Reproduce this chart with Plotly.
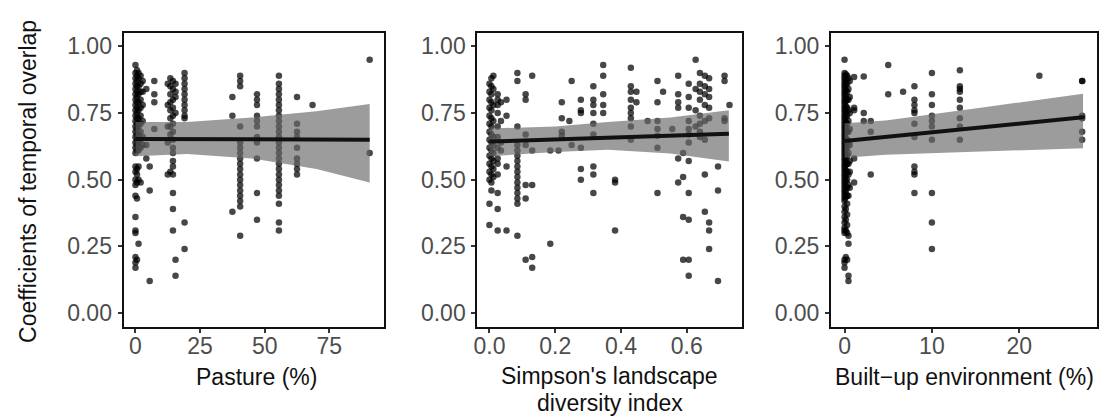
import plotly.graph_objects as go

# ---------------- data ----------------
y_ticks = [0.0, 0.25, 0.5, 0.75, 1.0]
y_tick_text = ["0.00", "0.25", "0.50", "0.75", "1.00"]

# Panel 1: Pasture (%) -- column x positions and the overlap values at each
pasture_col_x = [0.0, 0.6, 1.2, 2.0, 2.8, 4.2, 5.5, 7.3, 12.5, 13.5, 14.5, 15.5, 19.0,
                 37.5, 40.5, 47.0, 55.5, 62.5, 68.5, 90.6]
pasture_col_y = [
    [0.93, 0.90, 0.88, 0.86, 0.84, 0.82, 0.80, 0.78, 0.76, 0.74, 0.72, 0.70, 0.68, 0.66, 0.64,
     0.62, 0.60, 0.55, 0.53, 0.50, 0.48, 0.44, 0.36, 0.31, 0.30, 0.21, 0.19, 0.17],
    [0.91, 0.89, 0.87, 0.85, 0.83, 0.81, 0.79, 0.77, 0.75, 0.73, 0.71, 0.69, 0.67, 0.65, 0.63,
     0.61, 0.54, 0.52, 0.49, 0.43, 0.20],
    [0.90, 0.88, 0.85, 0.82, 0.79, 0.76, 0.73, 0.70, 0.67, 0.64, 0.61, 0.55, 0.50, 0.26],
    [0.89, 0.86, 0.83, 0.80, 0.77, 0.74, 0.71, 0.68, 0.65, 0.62, 0.49],
    [0.87, 0.83, 0.78, 0.72, 0.66, 0.63],
    [0.84, 0.63, 0.58],
    [0.55, 0.46, 0.12],
    [0.87, 0.82, 0.79, 0.69],
    [0.86, 0.78, 0.70, 0.64, 0.52],
    [0.88, 0.85, 0.82, 0.79, 0.76, 0.73, 0.70, 0.67, 0.53],
    [0.87, 0.84, 0.80, 0.77, 0.74, 0.71, 0.68, 0.65, 0.62, 0.60, 0.57, 0.55, 0.52, 0.45, 0.39, 0.31],
    [0.86, 0.83, 0.81, 0.75, 0.20, 0.14],
    [0.90, 0.88, 0.86, 0.84, 0.82, 0.80, 0.78, 0.76, 0.74, 0.73, 0.34, 0.24],
    [0.81, 0.74, 0.38],
    [0.89, 0.87, 0.85, 0.70, 0.64, 0.62, 0.60, 0.58, 0.56, 0.54, 0.52, 0.50, 0.48, 0.46, 0.44,
     0.42, 0.40, 0.29],
    [0.82, 0.80, 0.78, 0.74, 0.72, 0.70, 0.66, 0.64, 0.58, 0.45, 0.35],
    [0.89, 0.86, 0.84, 0.82, 0.80, 0.78, 0.76, 0.74, 0.72, 0.70, 0.68, 0.66, 0.64, 0.62, 0.60,
     0.58, 0.56, 0.54, 0.52, 0.50, 0.48, 0.46, 0.44, 0.41, 0.34, 0.31],
    [0.81, 0.71, 0.68, 0.66, 0.62, 0.58, 0.56, 0.54, 0.52],
    [0.78],
    [0.95, 0.60],
]
pasture_fit_x = [0.0, 90.6]
pasture_fit_y = [0.653, 0.650]
pasture_band_x = [0.0, 20.0, 45.0, 70.0, 90.6]
pasture_band_lo = [0.588, 0.596, 0.580, 0.540, 0.490]
pasture_band_hi = [0.716, 0.716, 0.733, 0.757, 0.784]

# Panel 2: Simpson's landscape diversity index
simpson_col_x = [0.000, 0.006, 0.012, 0.025, 0.035, 0.052, 0.085, 0.110, 0.130, 0.185, 0.210,
                 0.220, 0.243, 0.250, 0.278, 0.316, 0.346, 0.382, 0.430, 0.447, 0.481, 0.511,
                 0.528, 0.556, 0.574, 0.589, 0.606, 0.627, 0.640, 0.655, 0.668, 0.695, 0.715,
                 0.730]
simpson_col_y = [
    [0.86, 0.83, 0.80, 0.77, 0.74, 0.71, 0.68, 0.65, 0.62, 0.59, 0.56, 0.53, 0.50, 0.41, 0.33],
    [0.88, 0.85, 0.82, 0.79, 0.76, 0.73, 0.70, 0.67, 0.64, 0.61, 0.58, 0.55, 0.52, 0.49, 0.46],
    [0.89, 0.84, 0.78, 0.72, 0.66, 0.63, 0.60, 0.57, 0.54, 0.51],
    [0.82, 0.80, 0.78, 0.75, 0.70, 0.66, 0.62, 0.58, 0.56, 0.52, 0.45, 0.39, 0.31],
    [0.79, 0.72, 0.64, 0.61],
    [0.80, 0.74, 0.55, 0.31],
    [0.90, 0.87, 0.70, 0.63, 0.61, 0.59, 0.57, 0.55, 0.53, 0.51, 0.49, 0.47, 0.45, 0.43, 0.41, 0.29],
    [0.82, 0.80, 0.67, 0.63, 0.48, 0.43, 0.20],
    [0.89, 0.61, 0.48, 0.21, 0.17],
    [0.61, 0.26],
    [0.61],
    [0.79, 0.73, 0.68, 0.665],
    [0.72],
    [0.87, 0.63],
    [0.80, 0.76, 0.75, 0.62, 0.54, 0.50],
    [0.85, 0.80, 0.78, 0.75, 0.71, 0.67, 0.55, 0.52, 0.45],
    [0.93, 0.89, 0.82, 0.78, 0.75],
    [0.50, 0.49, 0.31],
    [0.92, 0.85, 0.83, 0.80, 0.77, 0.75, 0.73, 0.70, 0.65],
    [0.83, 0.79],
    [0.72],
    [0.87, 0.79, 0.72, 0.69, 0.665, 0.62, 0.45],
    [0.83],
    [0.69],
    [0.89, 0.82, 0.79, 0.77, 0.58, 0.49],
    [0.60, 0.51, 0.36, 0.20],
    [0.86, 0.81, 0.77, 0.72, 0.69, 0.67, 0.64, 0.57, 0.45, 0.35, 0.20, 0.14],
    [0.95, 0.84, 0.76, 0.70],
    [0.90, 0.86, 0.83, 0.80, 0.74, 0.71, 0.68, 0.66],
    [0.89, 0.85, 0.82, 0.78, 0.72, 0.65, 0.52, 0.38],
    [0.88, 0.84, 0.81, 0.77, 0.73, 0.34, 0.31, 0.24],
    [0.55, 0.46, 0.12],
    [0.89, 0.87, 0.73, 0.72],
    [0.78],
]
simpson_fit_x = [0.0, 0.728]
simpson_fit_y = [0.643, 0.672]
simpson_band_x = [0.0, 0.2, 0.36, 0.55, 0.728]
simpson_band_lo = [0.588, 0.604, 0.612, 0.598, 0.568]
simpson_band_hi = [0.692, 0.700, 0.716, 0.733, 0.760]

# Panel 3: Built-up environment (%)
builtup_col_x = [0.0, 0.15, 0.3, 0.45, 0.6, 1.1, 2.2, 3.0, 5.0, 6.7, 8.0, 10.0, 13.2, 22.3, 27.2]
builtup_col_y = [
    [0.95, 0.90, 0.89, 0.88, 0.87, 0.86, 0.85, 0.84, 0.83, 0.82, 0.81, 0.80, 0.79, 0.78, 0.77,
     0.76, 0.75, 0.74, 0.73, 0.72, 0.71, 0.70, 0.69, 0.68, 0.67, 0.66, 0.65, 0.64, 0.63, 0.62,
     0.61, 0.60, 0.59, 0.58, 0.57, 0.56, 0.55, 0.54, 0.53, 0.52, 0.51, 0.50, 0.49, 0.48, 0.47,
     0.46, 0.45, 0.44, 0.43, 0.42, 0.40, 0.38, 0.36, 0.34, 0.32, 0.31, 0.30, 0.20, 0.19, 0.17],
    [0.895, 0.875, 0.855, 0.835, 0.815, 0.795, 0.775, 0.755, 0.735, 0.715, 0.695, 0.675, 0.655,
     0.635, 0.615, 0.595, 0.575, 0.555, 0.535, 0.515, 0.495, 0.475, 0.455, 0.435, 0.39, 0.35, 0.31,
     0.21],
    [0.89, 0.86, 0.83, 0.80, 0.77, 0.74, 0.71, 0.68, 0.65, 0.62, 0.59, 0.56, 0.53, 0.50, 0.47,
     0.44, 0.41, 0.37, 0.33, 0.30, 0.20],
    [0.88, 0.84, 0.80, 0.76, 0.72, 0.68, 0.64, 0.60, 0.56, 0.52, 0.48, 0.44, 0.29, 0.26, 0.14, 0.12],
    [0.87, 0.81, 0.75, 0.69, 0.63, 0.57, 0.53, 0.47],
    [0.885, 0.77, 0.76, 0.58, 0.49],
    [0.887, 0.75, 0.72],
    [0.72, 0.68, 0.52],
    [0.93, 0.82],
    [0.83],
    [0.85, 0.80, 0.78, 0.76, 0.75, 0.71, 0.66, 0.55, 0.53, 0.52, 0.45],
    [0.90, 0.82, 0.78, 0.74, 0.72, 0.70, 0.65, 0.45, 0.34, 0.24],
    [0.91, 0.85, 0.84, 0.83, 0.80, 0.77, 0.73, 0.70, 0.65],
    [0.89],
    [0.87, 0.87, 0.74, 0.73, 0.68, 0.65],
]
builtup_fit_x = [0.0, 27.3]
builtup_fit_y = [0.645, 0.734]
builtup_band_x = [0.0, 4.7, 16.0, 27.3]
builtup_band_lo = [0.582, 0.594, 0.606, 0.618]
builtup_band_hi = [0.712, 0.722, 0.772, 0.822]

# x-axis titles, one entry per line: (text, centre x px, centre y px)
x_title_lines = [("Pasture (%)", 253, 377),
                 ("Simpson's landscape", 608, 376),
                 ("diversity index", 608, 403),
                 ("Built\u2212up environment (%)", 964, 377)]
y_title = "Coefficients of temporal overlap"

# ---------------- figure ----------------
W, H = 1105, 419
FONT = "Liberation Sans, Arial, sans-serif"
TICK_COLOR = "#4D4D4D"

def flatten(col_x, col_y):
    xs, ys = [], []
    for xv, yl in zip(col_x, col_y):
        for yv in yl:
            xs.append(xv)
            ys.append(yv)
    return xs, ys

panels = [
    (pasture_col_x, pasture_col_y, pasture_fit_x, pasture_fit_y, pasture_band_x, pasture_band_lo, pasture_band_hi),
    (simpson_col_x, simpson_col_y, simpson_fit_x, simpson_fit_y, simpson_band_x, simpson_band_lo, simpson_band_hi),
    (builtup_col_x, builtup_col_y, builtup_fit_x, builtup_fit_y, builtup_band_x, builtup_band_lo, builtup_band_hi),
]

fig = go.Figure()
for i, (cx, cy, fx, fy, bx, blo, bhi) in enumerate(panels):
    suffix = "" if i == 0 else str(i + 1)
    xs, ys = flatten(cx, cy)
    fig.add_trace(go.Scatter(x=xs, y=ys, mode="markers", xaxis="x" + suffix, yaxis="y" + suffix,
                             marker=dict(size=6.5, color="rgba(0,0,0,0.72)", line=dict(width=0)),
                             showlegend=False, hoverinfo="skip"))
    fig.add_trace(go.Scatter(x=bx + bx[::-1], y=bhi + blo[::-1], mode="lines", fill="toself",
                             fillcolor="rgba(105,105,105,0.66)", line=dict(width=0),
                             xaxis="x" + suffix, yaxis="y" + suffix, showlegend=False, hoverinfo="skip"))
    fig.add_trace(go.Scatter(x=fx, y=fy, mode="lines", line=dict(color="#111111", width=4),
                             xaxis="x" + suffix, yaxis="y" + suffix, showlegend=False, hoverinfo="skip"))

px_left = [120, 475, 830]
px_right = [381, 741, 1097]
top_px, bot_px = 33, 327
x_ranges = [[-4.6, 96.0], [-0.037, 0.769], [-1.55, 28.9]]
x_tickvals = [[0, 25, 50, 75], [0, 0.2, 0.4, 0.6], [0, 10, 20]]
x_ticktext = [["0", "25", "50", "75"], ["0.0", "0.2", "0.4", "0.6"], ["0", "10", "20"]]

axis_common = dict(showline=True, mirror=True, linecolor="#111111", linewidth=2,
                   ticks="outside", ticklen=4, tickwidth=1.5, tickcolor="#333333",
                   showgrid=False, zeroline=False,
                   tickfont=dict(family=FONT, size=23, color=TICK_COLOR))
layout = {}
for i in range(3):
    suffix = "" if i == 0 else str(i + 1)
    layout["xaxis" + suffix] = dict(axis_common, domain=[px_left[i] / W, px_right[i] / W],
                                    range=x_ranges[i], tickvals=x_tickvals[i], ticktext=x_ticktext[i],
                                    anchor="y" + suffix, ticklabelstandoff=-7)
    layout["yaxis" + suffix] = dict(axis_common, domain=[1 - bot_px / H, 1 - top_px / H],
                                    range=[-0.052, 1.05], tickvals=y_ticks, ticktext=y_tick_text,
                                    anchor="x" + suffix, ticklabelstandoff=1)

annotations = []
for text, cxp, cyp in x_title_lines:
    annotations.append(dict(text=text, x=cxp / W, y=1 - cyp / H,
                            xref="paper", yref="paper", showarrow=False, xanchor="center",
                            yanchor="middle", font=dict(family=FONT, size=23, color="#111111")))
annotations.append(dict(text=y_title, x=24 / W, y=1 - 181 / H, xref="paper", yref="paper",
                        showarrow=False, textangle=-90, xanchor="center", yanchor="middle",
                        font=dict(family=FONT, size=23, color="#111111")))

fig.update_layout(width=W, height=H, margin=dict(l=0, r=0, t=0, b=0),
                  paper_bgcolor="white", plot_bgcolor="white",
                  annotations=annotations, **layout)
fig.write_html("out.html")
